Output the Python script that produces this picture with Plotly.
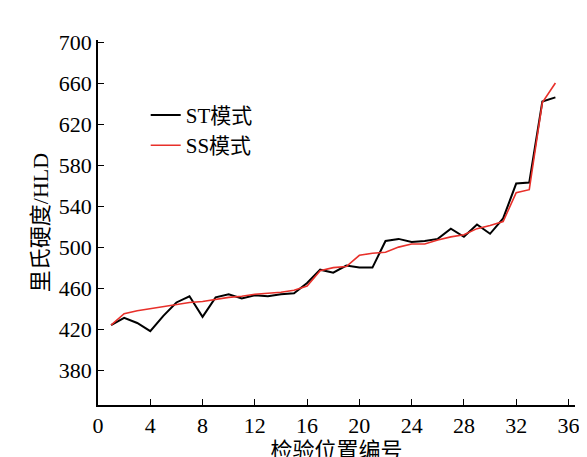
import plotly.graph_objects as go

positions = list(range(1, 36))
st_mode = [424, 431, 426, 418, 433, 446, 452, 432, 451, 454, 450, 453, 452, 454, 455,
           465, 478, 475, 482, 480, 480, 506, 508, 505, 506, 508, 518, 510, 522, 513,
           528, 562, 563, 642, 646]
ss_mode = [424, 435, 438, 440, 442, 444, 446, 447, 449, 451, 452, 454, 455, 456, 458,
           462, 477, 480, 481, 492, 494, 495, 500, 503, 503, 507, 510, 512, 518, 521,
           525, 553, 556, 641, 660]
x_ticks = list(range(0, 37, 4))
y_ticks = list(range(380, 701, 40))

font = "'Liberation Serif', 'DejaVu Serif', 'Noto Sans CJK SC', serif"

fig = go.Figure()
fig.add_trace(go.Scatter(x=positions, y=st_mode, mode="lines", name="ST模式",
                         line=dict(color="black", width=2)))
fig.add_trace(go.Scatter(x=positions, y=ss_mode, mode="lines", name="SS模式",
                         line=dict(color="#e8302a", width=1.6)))

axis_common = dict(showline=True, linecolor="black", linewidth=1.5, ticks="inside",
                   ticklen=6, tickcolor="black", showgrid=False, zeroline=False,
                   tickfont=dict(family=font, size=22, color="black"), mirror=False)
fig.update_xaxes(range=[0, 36.5], tickvals=x_ticks,
                 title=dict(text="检验位置编号", font=dict(family=font, size=22), standoff=0),
                 **axis_common)
fig.update_yaxes(range=[346, 702], tickvals=y_ticks,
                 title=dict(text="里氏硬度/HLD", font=dict(family=font, size=22), standoff=4),
                 **axis_common)
fig.update_layout(
    width=587, height=457, plot_bgcolor="white", paper_bgcolor="white",
    font=dict(family=font, color="black"),
    margin=dict(l=90, r=20, t=32, b=60),
    legend=dict(x=0.1, y=0.85, xanchor="left", yanchor="top",
                font=dict(family=font, size=21), bgcolor="rgba(0,0,0,0)"),
)
fig.write_html("out.html")
